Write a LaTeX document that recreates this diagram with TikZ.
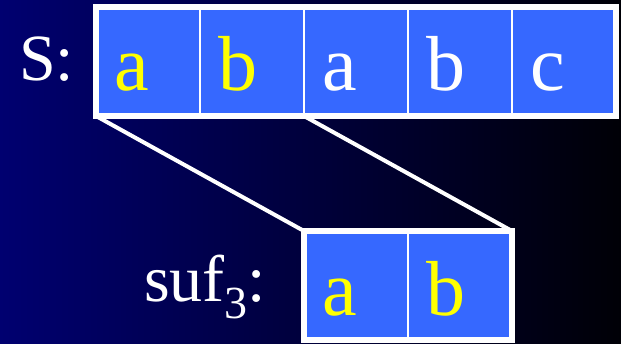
\documentclass[tikz,border=0pt]{standalone}
\usepackage{fontspec}
\setmainfont{Liberation Serif}
\usetikzlibrary{calc}
\definecolor{bgleft}{RGB}{0,0,112}
\definecolor{bgright}{RGB}{0,0,6}
\definecolor{cellblue}{RGB}{54,104,255}
\definecolor{letteryellow}{RGB}{255,255,0}
\tikzset{
  cell/.style={draw=white, line width=2.5pt, fill=cellblue, minimum width=104pt,
    minimum height=109pt, inner sep=0pt, outer sep=0pt},
  frame/.style={draw=white, line width=6pt},
  link/.style={draw=white, line width=4pt},
  letter/.style={anchor=base west, inner sep=0pt, font=\fontsize{78}{78}\selectfont},
  lab/.style={anchor=base west, inner sep=0pt, text=white, font=\fontsize{66}{66}\selectfont}
}
\begin{document}
\begin{tikzpicture}[x=1pt,y=-1pt]
\useasboundingbox (0,0) rectangle (621,343);
\clip (0,0) rectangle (621,343);
\shade[left color=bgleft, right color=bgright] (0,0) rectangle (621,343);
% top array S
\node[cell] (c1) at (148,61.5) {};
\node[cell] (c2) at (252,61.5) {};
\node[cell] (c3) at (356,61.5) {};
\node[cell] (c4) at (460,61.5) {};
\node[cell] (c5) at (564,61.5) {};
\draw[frame] (c1.north west) rectangle (c5.south east);
% bottom array suf3
\node[cell] (d1) at (356,285.5) {};
\node[cell] (d2) at (460,285.5) {};
\draw[frame] (d1.north west) rectangle (d2.south east);
% connectors
\draw[link] (c1.south west) -- (d1.north west);
\draw[link] (c3.south west) -- (d2.north east);
% letters
\node[letter, text=letteryellow] (t1) at ($(c1.north west)+(18,83)$) {a};
\node[letter, text=letteryellow] (t2) at ($(c2.north west)+(18,83)$) {b};
\node[letter, text=white] (t3) at ($(c3.north west)+(18,83)$) {a};
\node[letter, text=white] (t4) at ($(c4.north west)+(18,83)$) {b};
\node[letter, text=white] (t5) at ($(c5.north west)+(18,83)$) {c};
\node[letter, text=letteryellow] (u1) at ($(d1.north west)+(18,84)$) {a};
\node[letter, text=letteryellow] (u2) at ($(d2.north west)+(18,84)$) {b};
% labels
\node[lab] (slab) at (19,80) {S:};
\node[lab] (suflab) at (144,301) {suf\raisebox{-17pt}{\fontsize{46}{46}\selectfont 3}:};
\end{tikzpicture}
\end{document}
